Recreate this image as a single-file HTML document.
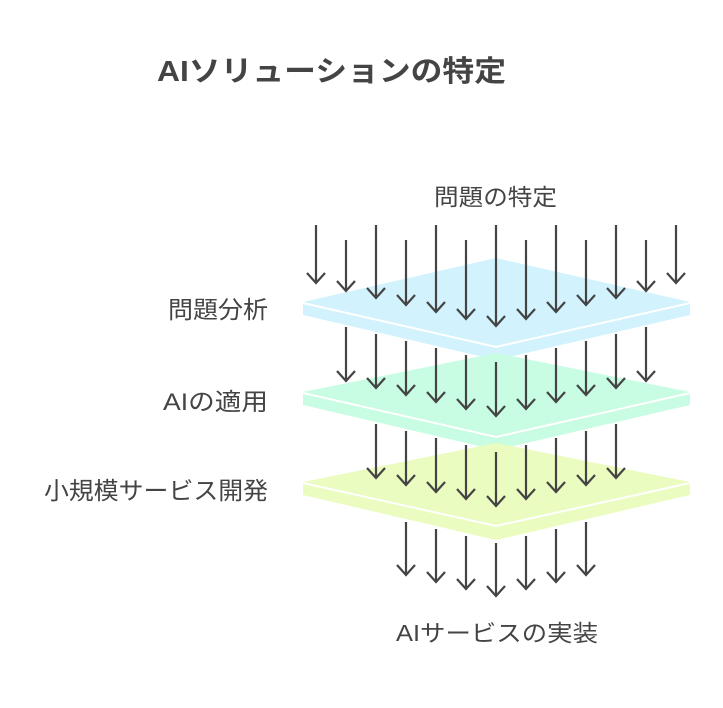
<!DOCTYPE html>
<html><head><meta charset="utf-8"><style>
html,body{margin:0;padding:0;background:#fff;}
svg{display:block;}
text{font-family:"Liberation Sans","Noto Sans CJK JP",sans-serif;fill:#444;}
</style></head><body>
<svg width="723" height="708" viewBox="0 0 723 708" xmlns="http://www.w3.org/2000/svg">
<text x="157" y="81" font-size="29" font-weight="bold" textLength="349" lengthAdjust="spacingAndGlyphs">AIソリューションの特定</text>
<text x="434" y="205" font-size="23" textLength="123" lengthAdjust="spacingAndGlyphs">問題の特定</text>
<text x="168" y="318" font-size="24" textLength="100" lengthAdjust="spacingAndGlyphs">問題分析</text>
<text x="163" y="410" font-size="24" textLength="105" lengthAdjust="spacingAndGlyphs">AIの適用</text>
<text x="44" y="499" font-size="24" textLength="224" lengthAdjust="spacingAndGlyphs">小規模サービス開発</text>
<text x="396" y="641" font-size="23" textLength="202" lengthAdjust="spacingAndGlyphs">AIサービスの実装</text>

<polygon points="303,302 496,258 690,302 690,315 496,360 303,315" fill="#d2f3fd"/>
<polyline points="303,303 496,347 690,303" fill="none" stroke="#fff" stroke-width="2"/>
<g stroke="#444" stroke-width="2.2" fill="none">
<line x1="316" y1="225" x2="316" y2="283"/><polyline points="307,273 316,283 325,273"/>
<line x1="346" y1="240" x2="346" y2="291"/><polyline points="337,281 346,291 355,281"/>
<line x1="376" y1="225" x2="376" y2="298"/><polyline points="367,288 376,298 385,288"/>
<line x1="406" y1="240" x2="406" y2="305"/><polyline points="397,295 406,305 415,295"/>
<line x1="436" y1="225" x2="436" y2="312"/><polyline points="427,302 436,312 445,302"/>
<line x1="466" y1="240" x2="466" y2="319"/><polyline points="457,309 466,319 475,309"/>
<line x1="496" y1="225" x2="496" y2="326"/><polyline points="487,316 496,326 505,316"/>
<line x1="526" y1="240" x2="526" y2="319"/><polyline points="517,309 526,319 535,309"/>
<line x1="556" y1="225" x2="556" y2="312"/><polyline points="547,302 556,312 565,302"/>
<line x1="586" y1="240" x2="586" y2="305"/><polyline points="577,295 586,305 595,295"/>
<line x1="616" y1="225" x2="616" y2="298"/><polyline points="607,288 616,298 625,288"/>
<line x1="646" y1="240" x2="646" y2="291"/><polyline points="637,281 646,291 655,281"/>
<line x1="676" y1="225" x2="676" y2="283"/><polyline points="667,273 676,283 685,273"/>
</g>

<polygon points="303,392 496,353 690,392 690,405 496,450 303,405" fill="#c8fde3"/>
<polyline points="303,393 496,437 690,393" fill="none" stroke="#fff" stroke-width="2"/>
<g stroke="#444" stroke-width="2.2" fill="none">
<line x1="346" y1="327" x2="346" y2="381"/><polyline points="337,371 346,381 355,371"/>
<line x1="376" y1="334" x2="376" y2="388"/><polyline points="367,378 376,388 385,378"/>
<line x1="406" y1="341" x2="406" y2="395"/><polyline points="397,385 406,395 415,385"/>
<line x1="436" y1="348" x2="436" y2="402"/><polyline points="427,392 436,402 445,392"/>
<line x1="466" y1="355" x2="466" y2="409"/><polyline points="457,399 466,409 475,399"/>
<line x1="496" y1="362" x2="496" y2="416"/><polyline points="487,406 496,416 505,406"/>
<line x1="526" y1="355" x2="526" y2="409"/><polyline points="517,399 526,409 535,399"/>
<line x1="556" y1="348" x2="556" y2="402"/><polyline points="547,392 556,402 565,392"/>
<line x1="586" y1="341" x2="586" y2="395"/><polyline points="577,385 586,395 595,385"/>
<line x1="616" y1="334" x2="616" y2="388"/><polyline points="607,378 616,388 625,378"/>
<line x1="646" y1="327" x2="646" y2="381"/><polyline points="637,371 646,381 655,371"/>
</g>

<polygon points="303,482 496,443 690,482 690,495 496,540 303,495" fill="#eafcbf"/>
<polyline points="303,483 496,526 690,483" fill="none" stroke="#fff" stroke-width="2"/>
<g stroke="#444" stroke-width="2.2" fill="none">
<line x1="376" y1="424" x2="376" y2="478"/><polyline points="367,468 376,478 385,468"/>
<line x1="406" y1="431" x2="406" y2="485"/><polyline points="397,475 406,485 415,475"/>
<line x1="436" y1="438" x2="436" y2="492"/><polyline points="427,482 436,492 445,482"/>
<line x1="466" y1="445" x2="466" y2="499"/><polyline points="457,489 466,499 475,489"/>
<line x1="496" y1="452" x2="496" y2="506"/><polyline points="487,496 496,506 505,496"/>
<line x1="526" y1="445" x2="526" y2="499"/><polyline points="517,489 526,499 535,489"/>
<line x1="556" y1="438" x2="556" y2="492"/><polyline points="547,482 556,492 565,482"/>
<line x1="586" y1="431" x2="586" y2="485"/><polyline points="577,475 586,485 595,475"/>
<line x1="616" y1="424" x2="616" y2="478"/><polyline points="607,468 616,478 625,468"/>

<line x1="406" y1="522" x2="406" y2="575"/><polyline points="397,565 406,575 415,565"/>
<line x1="436" y1="529" x2="436" y2="582"/><polyline points="427,572 436,582 445,572"/>
<line x1="466" y1="536" x2="466" y2="589"/><polyline points="457,579 466,589 475,579"/>
<line x1="496" y1="543" x2="496" y2="596"/><polyline points="487,586 496,596 505,586"/>
<line x1="526" y1="536" x2="526" y2="589"/><polyline points="517,579 526,589 535,579"/>
<line x1="556" y1="529" x2="556" y2="582"/><polyline points="547,572 556,582 565,572"/>
<line x1="586" y1="522" x2="586" y2="575"/><polyline points="577,565 586,575 595,565"/>
</g>
</svg>
</body></html>
